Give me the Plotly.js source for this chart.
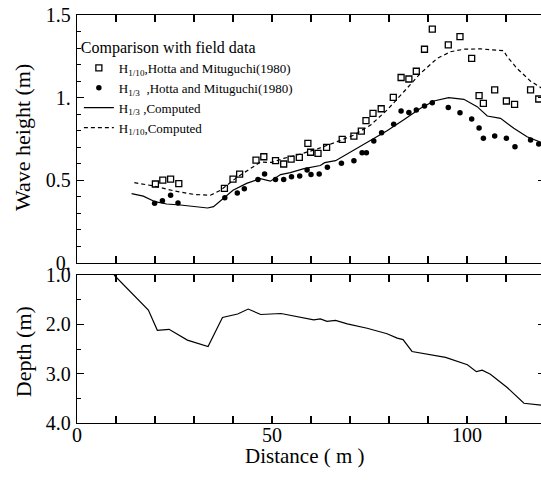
<!DOCTYPE html>
<html>
<head>
<meta charset="utf-8">
<script src="https://cdn.plot.ly/plotly-3.0.1.min.js"></script>
<style>
html,body{margin:0;padding:0;overflow:hidden;background:#fff;}
#chart{width:546px;height:482px;}
</style>
</head>
<body>
<div id="chart"></div>
<script>
// Computed H1/3 (solid)
const h13CompX = [14, 17, 20, 23, 26.5, 30, 33.5, 35, 37.5, 40, 43.5, 47, 49.6, 52.2, 54.7, 58.2, 62.4, 63.5, 66.3, 71, 75.3, 79.5, 83.8, 88.1, 91.5, 95.3, 99.2, 102.6, 105.2, 108.6, 112, 115.4, 119.1, 120];
const h13CompY = [0.42, 0.405, 0.371, 0.357, 0.351, 0.341, 0.333, 0.341, 0.391, 0.44, 0.482, 0.51, 0.495, 0.535, 0.547, 0.571, 0.59, 0.607, 0.619, 0.683, 0.738, 0.80, 0.867, 0.936, 0.98, 1.0, 0.99, 0.946, 0.889, 0.875, 0.815, 0.764, 0.728, 0.72];

// Computed H1/10 (dashed)
const h110CompX = [14.7, 19.7, 24.8, 30, 34.2, 36.8, 41.1, 47, 50, 53, 57.3, 61.6, 66.7, 71, 75.3, 79.5, 83.8, 88.1, 92.4, 95.8, 99.2, 103.5, 109.4, 110.3, 112.9, 116.3, 119.1, 120];
const h110CompY = [0.486, 0.466, 0.437, 0.415, 0.41, 0.44, 0.52, 0.61, 0.609, 0.633, 0.659, 0.69, 0.734, 0.774, 0.835, 0.925, 1.036, 1.148, 1.238, 1.278, 1.293, 1.295, 1.284, 1.248, 1.175, 1.10, 1.058, 1.05];

// Observed H1/10 (open squares), Hotta and Mituguchi (1980)
const h110ObsX = [20.1, 22.0, 24.0, 26.1, 37.8, 40.0, 41.7, 45.9, 47.9, 50.9, 53, 54.9, 57, 59.2, 59.9, 61.8, 64, 68, 71, 72.9, 74.1, 75.9, 78, 81.1, 83.1, 85.1, 87, 89.1, 91.1, 95.2, 98.2, 101.2, 103.1, 104.2, 107.1, 110.1, 112.2, 116.3, 118.4];
const h110ObsY = [0.478, 0.502, 0.508, 0.48, 0.452, 0.508, 0.538, 0.623, 0.643, 0.619, 0.599, 0.629, 0.639, 0.724, 0.67, 0.663, 0.70, 0.748, 0.768, 0.798, 0.861, 0.905, 0.933, 1.002, 1.122, 1.113, 1.16, 1.293, 1.415, 1.319, 1.369, 1.238, 1.012, 0.966, 1.047, 0.98, 0.96, 1.047, 0.992];

// Observed H1/3 (filled dots), Hotta and Mituguchi (1980)
const h13ObsX = [19.9, 21.9, 24, 25.9, 37.9, 41.1, 42.9, 46.4, 48.1, 50.9, 53, 55, 57.1, 59, 60, 62.1, 64.2, 67.8, 71, 73.1, 74.2, 76.1, 78.1, 81.2, 83.1, 85.1, 87, 89.1, 91.1, 95.2, 98.2, 101.2, 103.1, 104.2, 107.1, 110.1, 112.3, 116.3, 118.4];
const h13ObsY = [0.361, 0.377, 0.41, 0.363, 0.395, 0.423, 0.45, 0.506, 0.538, 0.506, 0.506, 0.522, 0.526, 0.563, 0.536, 0.538, 0.579, 0.603, 0.619, 0.667, 0.667, 0.738, 0.788, 0.839, 0.919, 0.911, 0.925, 0.95, 0.97, 0.94, 0.909, 0.871, 0.817, 0.754, 0.768, 0.754, 0.704, 0.744, 0.72];

// Depth profile
const depthX = [9.5, 18.3, 20.6, 23.6, 28.3, 33.6, 37.3, 41.2, 43.9, 47.1, 52.3, 57.3, 60.7, 62.4, 64.1, 66.3, 69.3, 74.4, 79.5, 82.1, 83.6, 85.9, 89.8, 94.5, 100.1, 102.4, 103.9, 106, 110.3, 114.6, 119.1, 120];
const depthY = [1.0, 1.71, 2.12, 2.10, 2.32, 2.45, 1.86, 1.79, 1.69, 1.80, 1.78, 1.86, 1.91, 1.89, 1.94, 1.92, 1.99, 2.08, 2.19, 2.28, 2.31, 2.55, 2.60, 2.67, 2.82, 2.96, 2.93, 3.01, 3.28, 3.60, 3.64, 3.65];

// Tick labels
const xTickVals = [0, 50, 100];
const xTickText = ['0', '50', '100'];
const waveTickVals = [0, 0.5, 1, 1.5];
const waveTickText = ['0.', '0.5', '1.', '1.5'];
const depthTickVals = [1, 2, 3, 4];
const depthTickText = ['1.0', '2.0', '3.0', '4.0'];

const FONT = 'Liberation Serif, Times New Roman, serif';

const traces = [
  {x: h110ObsX, y: h110ObsY, type: 'scatter', mode: 'markers', xaxis: 'x', yaxis: 'y',
   name: 'H<sub>1/10</sub>,Hotta and Mituguchi(1980)',
   marker: {symbol: 'square-open', size: 6, color: '#000', line: {width: 1.3, color: '#000'}}},
  {x: h13ObsX, y: h13ObsY, type: 'scatter', mode: 'markers', xaxis: 'x', yaxis: 'y',
   name: 'H<sub>1/3</sub>  ,Hotta and Mituguchi(1980)',
   marker: {symbol: 'circle', size: 5.5, color: '#000'}},
  {x: h13CompX, y: h13CompY, type: 'scatter', mode: 'lines', xaxis: 'x', yaxis: 'y',
   name: 'H<sub>1/3</sub> ,Computed',
   line: {color: '#000', width: 1.2}},
  {x: h110CompX, y: h110CompY, type: 'scatter', mode: 'lines', xaxis: 'x', yaxis: 'y',
   name: 'H<sub>1/10</sub>,Computed',
   line: {color: '#000', width: 1.2, dash: '4px,3px'}},
  {x: depthX, y: depthY, type: 'scatter', mode: 'lines', xaxis: 'x2', yaxis: 'y2',
   showlegend: false, line: {color: '#000', width: 1.2}}
];

const axBase = {
  showline: true, linecolor: '#000', linewidth: 1.2, mirror: 'ticks',
  ticks: 'inside', ticklen: 7, tickwidth: 1.2, tickcolor: '#000',
  showgrid: false, zeroline: false,
  tickfont: {family: FONT, size: 20, color: '#000'}
};
const xMinor = {tick0: 0, dtick: 10, ticks: 'inside', ticklen: 7, tickwidth: 1.2, tickcolor: '#000', showgrid: false};

const layout = {
  width: 546, height: 482,
  margin: {l: 77, r: 1, t: 15, b: 59},
  paper_bgcolor: '#fff', plot_bgcolor: '#fff',
  font: {family: FONT, color: '#000'},
  showlegend: true,
  legend: {
    x: 0.004, y: 0.958, xanchor: 'left', yanchor: 'top',
    bgcolor: 'rgba(0,0,0,0)', borderwidth: 0,
    font: {family: FONT, size: 13, color: '#000'},
    title: {text: 'Comparison with field data', font: {family: FONT, size: 16, color: '#000'}},
    tracegroupgap: 0
  },
  xaxis: Object.assign({}, axBase, {
    anchor: 'y', domain: [0, 1], range: [0, 120],
    tickvals: xTickVals, showticklabels: false, minor: xMinor
  }),
  yaxis: Object.assign({}, axBase, {
    anchor: 'x', domain: [0.392, 1], range: [0, 1.5],
    tickvals: waveTickVals, ticktext: waveTickText, ticklabelstandoff: 1,
    minor: {tick0: 0, dtick: 0.1, ticks: 'inside', ticklen: 4, tickwidth: 1, tickcolor: '#000', showgrid: false}
  }),
  xaxis2: Object.assign({}, axBase, {
    anchor: 'y2', domain: [0, 1], range: [0, 120],
    tickvals: xTickVals, ticktext: xTickText, ticklabelstandoff: -6, minor: xMinor
  }),
  yaxis2: Object.assign({}, axBase, {
    anchor: 'x2', domain: [0, 0.3627], range: [4, 1],
    tickvals: depthTickVals, ticktext: depthTickText, ticklabelstandoff: 1,
    minor: {tick0: 1, dtick: 0.5, ticks: 'inside', ticklen: 4, tickwidth: 1, tickcolor: '#000', showgrid: false}
  }),
  annotations: [
    {text: 'Wave height (m)', xref: 'paper', yref: 'paper', x: -0.1175, y: 0.6985,
     textangle: -90, showarrow: false, xanchor: 'center', yanchor: 'middle',
     font: {family: FONT, size: 22, color: '#000'}},
    {text: 'Depth (m)', xref: 'paper', yref: 'paper', x: -0.115, y: 0.174,
     textangle: -90, showarrow: false, xanchor: 'center', yanchor: 'middle',
     font: {family: FONT, size: 22, color: '#000'}},
    {text: 'Distance ( m )', xref: 'paper', yref: 'paper', x: 0.487, y: -0.08,
     showarrow: false, xanchor: 'center', yanchor: 'middle',
     font: {family: FONT, size: 21, color: '#000'}}
  ]
};

Plotly.newPlot('chart', traces, layout, {displayModeBar: false, staticPlot: true});
</script>
</body>
</html>
